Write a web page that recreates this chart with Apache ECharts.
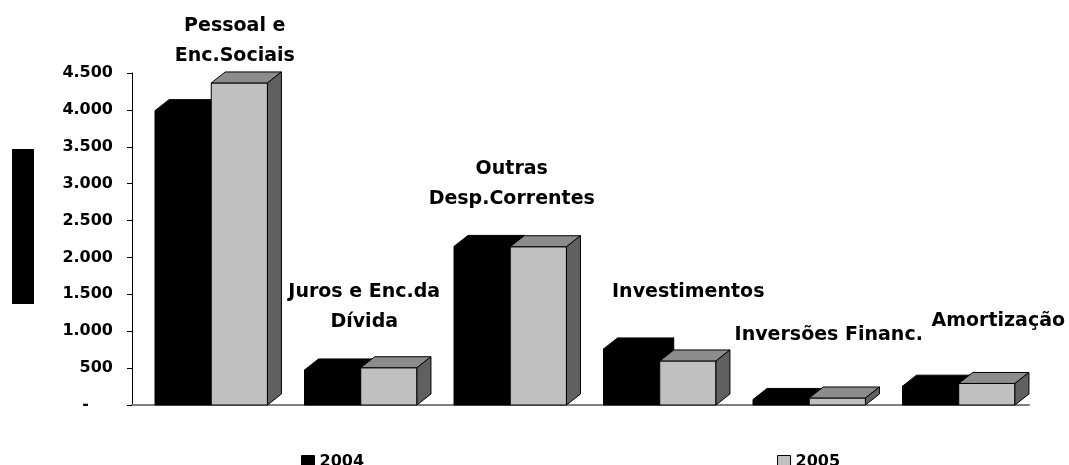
<!DOCTYPE html>
<html>
<head>
<meta charset="utf-8">
<script src="https://cdn.jsdelivr.net/npm/echarts@6/dist/echarts.min.js"></script>
<style>
  html, body { margin: 0; padding: 0; background: #fff; }
  #chart { width: 1069px; height: 465px; }
</style>
</head>
<body>
<div id="chart"></div>
<script>
// categorias e valores
const categories = ['Pessoal e\nEnc.Sociais', 'Juros e Enc.da\nDívida', 'Outras\nDesp.Correntes', 'Investimentos', 'Inversões Financ.', 'Amortização']
const values2004 = [3990, 475, 2150, 760, 75, 255]
const values2005 = [4365, 505, 2145, 597, 95, 292]
const yTicks = [0, 500, 1000, 1500, 2000, 2500, 3000, 3500, 4000, 4500]

// deslocamento (px) de cada rótulo em relação ao topo da barra mais alta
const labelOffsets = [[28, -42], [8, -61], [6, -62], [33, -57], [24, -63], [44, -62]]

const FONT = '"DejaVu Sans", sans-serif'
const DEPTH_X = 14
const DEPTH_Y = 11

function bar3d(start, faces) {
  return function(params, api) {
    const idx = api.value(0)
    const base = api.coord([idx, 0])
    const top = api.coord([idx, api.value(1)])
    const band = api.size([1, 0])[0]
    const l = base[0] - band / 2 + start * band
    const r = l + 0.376 * band
    const yb = base[1]
    const yt = top[1]
    const line = { stroke: '#000', lineWidth: 1 }
    return {
      type: 'group',
      children: [
        { type: 'polygon', shape: { points: [[l, yb], [r, yb], [r, yt], [l, yt]] }, style: Object.assign({ fill: faces[0] }, line) },
        { type: 'polygon', shape: { points: [[l, yt], [r, yt], [r + DEPTH_X, yt - DEPTH_Y], [l + DEPTH_X, yt - DEPTH_Y]] }, style: Object.assign({ fill: faces[1] }, line) },
        { type: 'polygon', shape: { points: [[r, yb], [r + DEPTH_X, yb - DEPTH_Y], [r + DEPTH_X, yt - DEPTH_Y], [r, yt]] }, style: Object.assign({ fill: faces[2] }, line) }
      ]
    }
  }
}

const chart = echarts.init(document.getElementById('chart'))
const option = {
  animation: false,
  backgroundColor: '#fff',
  grid: { left: 132, right: 40, top: 73, bottom: 60 },
  legend: {
    left: 296,
    top: 449,
    itemWidth: 13,
    itemHeight: 13,
    itemGap: 413,
    textStyle: { fontFamily: FONT, fontWeight: 'bold', fontSize: 16, color: '#000' },
    data: [
      { name: '2004', icon: 'rect', itemStyle: { color: '#000', borderColor: '#000', borderWidth: 1 } },
      { name: '2005', icon: 'rect', itemStyle: { color: '#C0C0C0', borderColor: '#000', borderWidth: 1 } }
    ]
  },
  graphic: [
    { type: 'rect', left: 12, top: 149, shape: { width: 22, height: 155 }, style: { fill: '#000' } }
  ],
  xAxis: {
    type: 'category',
    data: categories,
    axisLine: { show: true, lineStyle: { color: '#808080', width: 2 } },
    axisTick: { show: false },
    axisLabel: { show: false },
    splitLine: { show: false }
  },
  yAxis: {
    type: 'value',
    min: 0,
    max: 4500,
    interval: 500,
    axisLine: { show: true, lineStyle: { color: '#000', width: 1 } },
    axisTick: { show: true, length: 5, lineStyle: { color: '#000' } },
    splitLine: { show: false },
    axisLabel: {
      margin: 19,
      color: '#000',
      fontFamily: FONT,
      fontWeight: 'bold',
      fontSize: 16,
      formatter: function(v) {
        if (v === 0) return '{dash|-}'
        return String(v).replace(/\B(?=(\d{3})+(?!\d))/g, '.')
      },
      rich: {
        dash: { fontFamily: FONT, fontWeight: 'bold', fontSize: 16, color: '#000', padding: [0, 24, 0, 0] }
      }
    }
  },
  series: [
    {
      name: '2004',
      type: 'custom',
      itemStyle: { color: '#000' },
      renderItem: bar3d(0.154, ['#000', '#000', '#000']),
      encode: { x: 0, y: 1 },
      data: values2004.map((v, i) => [i, v])
    },
    {
      name: '2005',
      type: 'custom',
      itemStyle: { color: '#C0C0C0' },
      renderItem: bar3d(0.530, ['#C0C0C0', '#8C8C8C', '#606060']),
      encode: { x: 0, y: 1 },
      data: values2005.map((v, i) => [i, v])
    },
    {
      name: 'rotulos',
      type: 'custom',
      silent: true,
      renderItem: function(params, api) {
        const idx = api.value(0)
        const p = api.coord([idx, api.value(1)])
        const off = labelOffsets[idx]
        return {
          type: 'text',
          x: p[0] + off[0],
          y: p[1] + off[1],
          style: {
            text: categories[idx],
            fill: '#000',
            font: 'bold 19px ' + FONT,
            align: 'center',
            verticalAlign: 'middle',
            lineHeight: 30
          }
        }
      },
      encode: { x: 0, y: 1 },
      data: categories.map((c, i) => [i, Math.max(values2004[i], values2005[i])])
    }
  ]
}
chart.setOption(option)
</script>
</body>
</html>
